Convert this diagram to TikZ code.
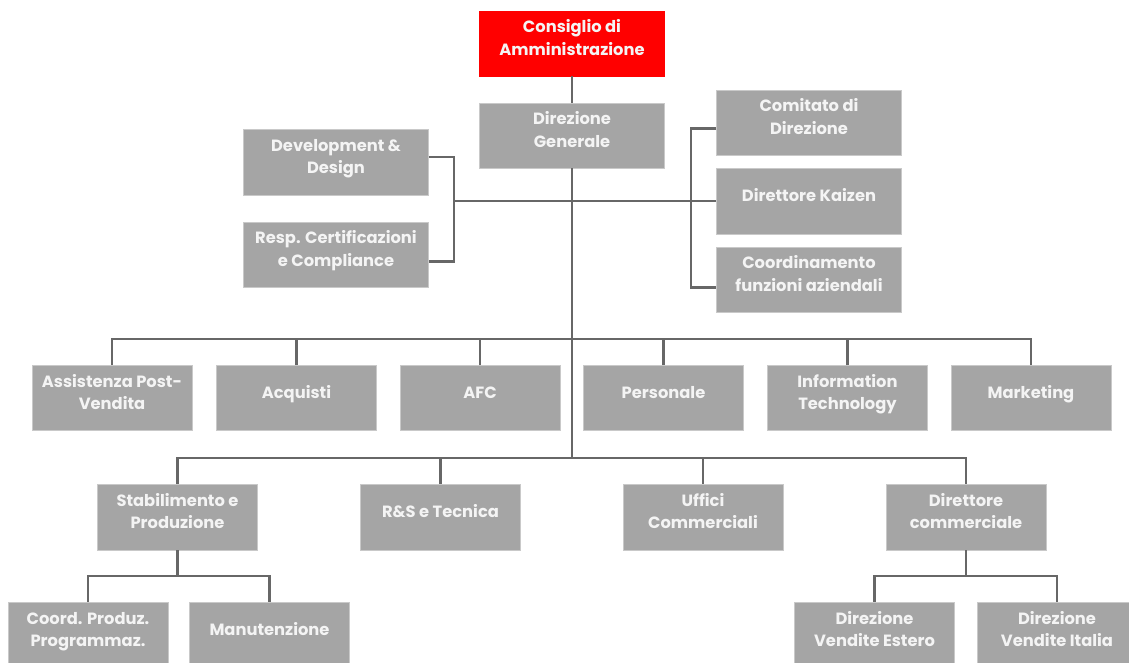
\documentclass[tikz,border=0pt]{standalone}
\usepackage{fontspec}
\setmainfont{Poppins}
\usetikzlibrary{calc}
\definecolor{boxgray}{HTML}{A5A5A5}
\definecolor{boxedge}{HTML}{C9C9C9}
\definecolor{linegray}{HTML}{676767}
\definecolor{txt}{HTML}{F4F4F4}
\definecolor{cdared}{HTML}{FF0000}
\newcommand{\boxtext}[1]{\raisebox{4pt}[\height][\depth]{\begin{tabular}{@{}c@{}}#1\end{tabular}}}
\tikzset{
  orgbox/.style={draw=boxedge, line width=0.8pt, fill=boxgray, text=txt, align=center,
    font=\fontsize{16.3}{22.5}\selectfont\bfseries, inner sep=0pt,
    minimum width=160pt, minimum height=65pt},
  widebox/.style={orgbox, minimum width=185pt},
  redbox/.style={widebox, fill=cdared, draw=cdared},
  conn/.style={draw=linegray, line width=2.6pt}
}
\begin{document}
\begin{tikzpicture}[x=1pt,y=-1pt]
\useasboundingbox (0,0) rectangle (1129,663);
\clip (0,0) rectangle (1129,663);
% top
\node[redbox] (cda) at (572,43.5) {\boxtext{Consiglio di\\Amministrazione}};
\node[widebox] (dg) at (572,135.5) {\boxtext{Direzione\\Generale}};
\node[widebox, minimum height=66pt] (dev) at (336,162) {\boxtext{Development \&\\Design}};
\node[widebox] (resp) at (336,254.5) {\boxtext{Resp. Certificazioni\\e Compliance}};
\node[widebox] (com) at (809,122.5) {\boxtext{Comitato di\\Direzione}};
\node[widebox, minimum height=66pt] (kai) at (809,201) {\boxtext{Direttore Kaizen}};
\node[widebox] (coo) at (809,279.5) {\boxtext{Coordinamento\\funzioni aziendali}};
% row 2
\node[orgbox] (ass) at (112,398) {\boxtext{Assistenza Post-\\Vendita}};
\node[orgbox] (acq) at (296.5,398) {\boxtext{Acquisti}};
\node[orgbox] (afc) at (480,398) {\boxtext{AFC}};
\node[orgbox] (per) at (663.5,398) {\boxtext{Personale}};
\node[orgbox] (it) at (847.5,398) {\boxtext{Information\\Technology}};
\node[orgbox] (mkt) at (1031,398) {\boxtext{Marketing}};
% row 3
\node[orgbox, minimum height=66pt] (sta) at (177.5,517) {\boxtext{Stabilimento e\\Produzione}};
\node[orgbox, minimum height=66pt] (rs) at (440.5,517) {\boxtext{R\&S e Tecnica}};
\node[orgbox, minimum height=66pt] (uff) at (703,517) {\boxtext{Uffici\\Commerciali}};
\node[orgbox, minimum height=66pt] (dc) at (966,517) {\boxtext{Direttore\\commerciale}};
% row 4
\node[orgbox, minimum height=66pt] (cp) at (88,635) {\boxtext{Coord. Produz.\\Programmaz.}};
\node[orgbox, minimum height=66pt] (man) at (269.5,635) {\boxtext{Manutenzione}};
\node[orgbox, minimum height=66pt] (est) at (874.5,635) {\boxtext{Direzione\\Vendite Estero}};
\node[orgbox, minimum height=66pt] (ita) at (1057,635) {\boxtext{Direzione\\Vendite Italia}};
% coordinates
\coordinate (lb) at (454,201);
\coordinate (rb) at (691,201);
\coordinate (b2) at (572,339);
\coordinate (b3) at (572,458);
\coordinate (b4l) at (177.5,576);
\coordinate (b4r) at (966,576);
% connectors
\draw[conn] (cda.south) -- (dg.north);
\draw[conn] (dg.south) -- (b3);
\draw[conn] ([yshift=5pt]dev.east) -| (lb) |- ([yshift=-7pt]resp.east);
\draw[conn] (lb) -- (kai.west);
\draw[conn] ([yshift=-6pt]com.west) -| (rb) |- ([yshift=-8pt]coo.west);
\draw[conn] (ass.north) |- (b2) -| (mkt.north);
\foreach \n in {acq,afc,per,it} \draw[conn] (\n.north) -- (\n.north |- b2);
\draw[conn] (sta.north) |- (b3) -| (dc.north);
\foreach \n in {rs,uff} \draw[conn] (\n.north) -- (\n.north |- b3);
\draw[conn] (sta.south) -- (b4l);
\draw[conn] (cp.north) |- (b4l) -| (man.north);
\draw[conn] (dc.south) -- (b4r);
\draw[conn] (est.north) |- (b4r) -| (ita.north);
\end{tikzpicture}
\end{document}
